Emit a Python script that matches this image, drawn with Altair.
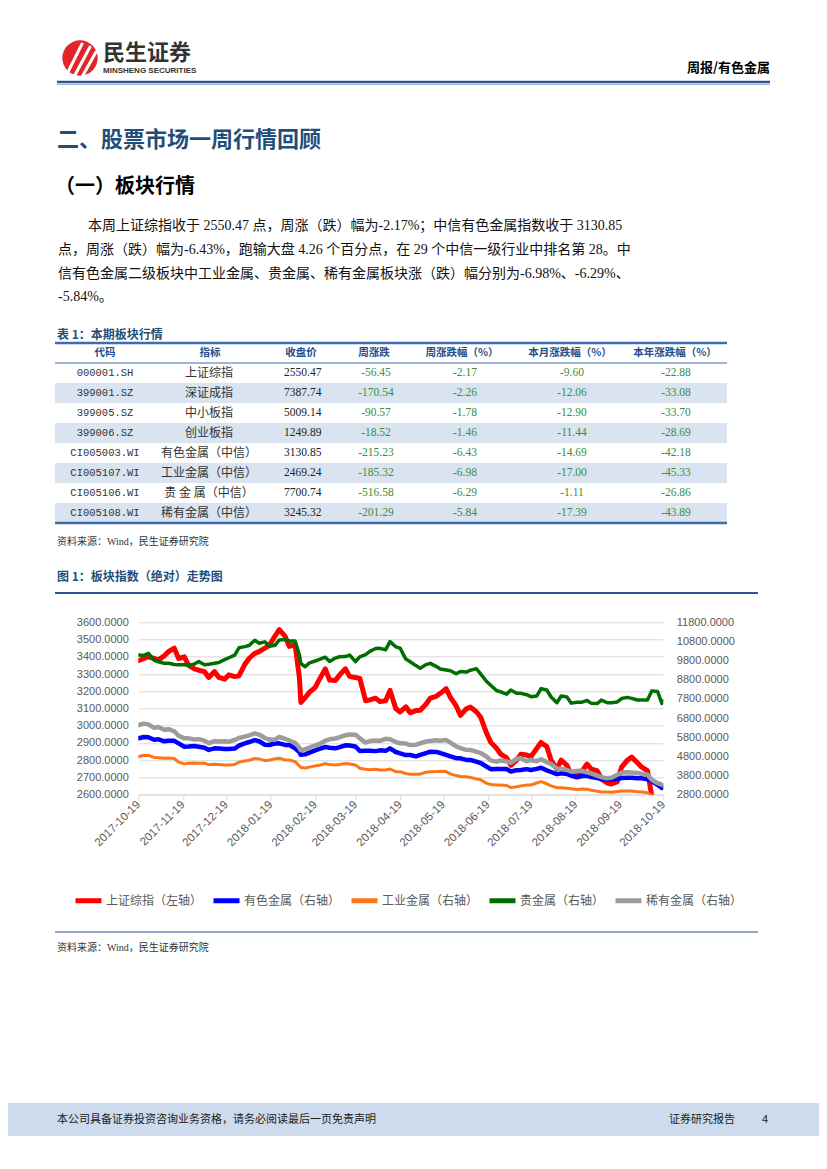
import altair as alt
import pandas as pd

# ---------------- data ----------------
dates = [
    "2017-10-19", "2017-10-23", "2017-10-26", "2017-10-30", "2017-11-02", "2017-11-06", "2017-11-09", "2017-11-13", "2017-11-16",
    "2017-11-20", "2017-11-23", "2017-11-27", "2017-11-30", "2017-12-04", "2017-12-07", "2017-12-11", "2017-12-14", "2017-12-18",
    "2017-12-21", "2017-12-25", "2017-12-28", "2018-01-01", "2018-01-04", "2018-01-08", "2018-01-11", "2018-01-15", "2018-01-18",
    "2018-01-22", "2018-01-25", "2018-01-29", "2018-02-01", "2018-02-05", "2018-02-08", "2018-02-09", "2018-02-12", "2018-02-15",
    "2018-02-19", "2018-02-22", "2018-02-26", "2018-03-01", "2018-03-05", "2018-03-08", "2018-03-12", "2018-03-15",
    "2018-03-19", "2018-03-22", "2018-03-26", "2018-03-29", "2018-04-02", "2018-04-05", "2018-04-09", "2018-04-12", "2018-04-16",
    "2018-04-19", "2018-04-23", "2018-04-26", "2018-04-30", "2018-05-03", "2018-05-07", "2018-05-10", "2018-05-14", "2018-05-17",
    "2018-05-21", "2018-05-24", "2018-05-28", "2018-05-31", "2018-06-04", "2018-06-07", "2018-06-11", "2018-06-14", "2018-06-18",
    "2018-06-21", "2018-06-25", "2018-06-28", "2018-07-02", "2018-07-05", "2018-07-09", "2018-07-12", "2018-07-16",
    "2018-07-19", "2018-07-23", "2018-07-26", "2018-07-30", "2018-08-02", "2018-08-06", "2018-08-09", "2018-08-13", "2018-08-16",
    "2018-08-20", "2018-08-23", "2018-08-27", "2018-08-30", "2018-09-03", "2018-09-06", "2018-09-10", "2018-09-13", "2018-09-17",
    "2018-09-20", "2018-09-24", "2018-09-27", "2018-10-01", "2018-10-04", "2018-10-08", "2018-10-11", "2018-10-15", "2018-10-18", "2018-10-19",
]

# 上证综指 (left axis)
sh = [
    3377, 3390, 3400, 3390, 3382, 3405, 3430, 3450, 3390,
    3400, 3350, 3330, 3322, 3314, 3280, 3314, 3280, 3270,
    3295, 3285, 3290, 3355, 3390, 3420, 3430, 3450, 3465,
    3520, 3558, 3520, 3460, 3470, 3280, 3135, 3162, 3195,
    3222, 3270, 3330, 3265, 3262, 3295, 3330, 3285,
    3280, 3275, 3145, 3150, 3160, 3140, 3145, 3205, 3100,
    3080, 3110, 3075, 3088, 3090, 3125, 3160, 3170, 3188,
    3215, 3165, 3115, 3060, 3098, 3108, 3081, 3050, 2960,
    2905, 2870, 2835, 2815, 2770, 2800, 2835, 2830,
    2821, 2868, 2903, 2879, 2800, 2750, 2800, 2770, 2718,
    2712, 2730, 2778, 2748, 2740, 2690, 2668, 2662, 2675,
    2760, 2800, 2818, 2785, 2760, 2740, 2590, 2560, 2490, 2550,
]
# 有色金属 (right axis)
ys = [
    5742, 5815, 5800, 5670, 5695, 5585, 5615, 5610, 5480,
    5307, 5315, 5342, 5307, 5250, 5140, 5220, 5210, 5185,
    5185, 5210, 5360, 5481, 5550, 5650, 5590, 5410, 5394,
    5475, 5481, 5400, 5394, 5220, 5020, 4880, 4905, 5000,
    5115, 5190, 5290, 5250, 5220, 5280, 5380, 5370,
    5315, 5080, 5100, 5100, 5075, 5115, 5090, 5220, 5030,
    4959, 4870, 4872, 4800, 4880, 4975, 5046, 5035, 4975,
    4880, 4800, 4705, 4698, 4615, 4611, 4530, 4455, 4275,
    4135, 4138, 4141, 4141, 4010, 4080, 4089, 4135,
    4089, 4150, 4205, 4070, 3985, 3875, 3915, 3880, 3790,
    3710, 3760, 3785, 3725, 3670, 3620, 3590, 3595, 3620,
    3670, 3689, 3689, 3655, 3654, 3610, 3500, 3320, 3150, 3210,
]
# 工业金属 (right axis)
gy = [
    4785, 4860, 4850, 4745, 4733, 4700, 4718, 4690, 4500,
    4410, 4445, 4460, 4445, 4440, 4370, 4385, 4380, 4350,
    4350, 4375, 4500, 4559, 4600, 4690, 4670, 4580, 4600,
    4680, 4705, 4615, 4611, 4524, 4300, 4220, 4190, 4240,
    4305, 4340, 4420, 4380, 4350, 4375, 4430, 4400,
    4355, 4180, 4130, 4105, 4130, 4095, 4089, 4141, 4000,
    4002, 3905, 3863, 3863, 3870, 3975, 4002, 4005, 4030,
    4005, 3890, 3798, 3750, 3741, 3700, 3625, 3578, 3405,
    3330, 3307, 3307, 3280, 3170, 3215, 3260, 3300,
    3307, 3410, 3480, 3370, 3260, 3168, 3160, 3133, 3110,
    3070, 3098, 3080, 3030, 2985, 2945, 2940, 2930, 2965,
    2994, 2994, 2990, 2960, 2940, 2900, 2760, 2650, 2500, 2469,
]
# 贵金属 (right axis)
gj = [
    10090, 10070, 10180, 9820, 9740, 9660, 9660, 9600, 9590,
    9580, 9540, 9620, 9750, 9580, 9610, 9660, 9700, 9850,
    9950, 10090, 10470, 10530, 10590, 10860, 10710, 10780, 10550,
    10600, 10880, 10900, 10830, 10820, 10100, 9650, 9480, 9680,
    9780, 9860, 9980, 9750, 9930, 10000, 10010, 10090,
    9750, 10000, 10110, 10280, 10430, 10440, 10370, 10790, 10520,
    10450, 9880, 9744, 9540, 9400, 9590, 9657, 9500, 9360,
    9309, 9270, 9110, 9230, 9200, 9300, 9380, 9110, 8720,
    8510, 8240, 8170, 8050, 8265, 8100, 8091, 8020,
    7917, 7950, 8340, 8265, 7900, 7600, 7950, 7900, 7580,
    7630, 7620, 7720, 7568, 7560, 7740, 7600, 7600, 7640,
    7820, 7880, 7830, 7745, 7742, 7742, 8220, 8190, 7568, 7700,
]
# 稀有金属 (right axis)
xy = [
    6440, 6510, 6470, 6290, 6330, 6190, 6220, 6110, 5880,
    5742, 5742, 5680, 5700, 5620, 5490, 5590, 5580, 5590,
    5570, 5655, 5760, 5829, 5900, 6000, 5940, 5760, 5680,
    5670, 5820, 5720, 5630, 5510, 5250, 5120, 5170, 5260,
    5380, 5450, 5620, 5690, 5735, 5800, 5900, 5940,
    5925, 5742, 5520, 5600, 5630, 5610, 5720, 5700, 5550,
    5481, 5470, 5394, 5410, 5485, 5575, 5606, 5645, 5615,
    5650, 5515, 5318, 5237, 5140, 5133, 5050, 4975, 4795,
    4590, 4524, 4590, 4535, 4460, 4680, 4698, 4550,
    4611, 4550, 4650, 4500, 4400, 4170, 4141, 4090, 4002,
    4040, 4060, 3970, 3900, 3800, 3710, 3654, 3690, 3840,
    3940, 3967, 3965, 3935, 3890, 3845, 3580, 3400, 3320, 3300,
]

series_names = ["上证综指（左轴）", "有色金属（右轴）", "工业金属（右轴）", "贵金属（右轴）", "稀有金属（右轴）"]
series_colors = ["#FF0000", "#0000FF", "#FF7417", "#006E00", "#9C9C9C"]

left_ticks = [2600, 2700, 2800, 2900, 3000, 3100, 3200, 3300, 3400, 3500, 3600]
right_ticks = [2800, 3800, 4800, 5800, 6800, 7800, 8800, 9800, 10800, 11800]
x_tick_months = [(2017, 10), (2017, 11), (2017, 12), (2018, 1), (2018, 2), (2018, 3), (2018, 4),
                 (2018, 5), (2018, 6), (2018, 7), (2018, 8), (2018, 9), (2018, 10)]

# table
headers = ["代码", "指标", "收盘价", "周涨跌", "周涨跌幅（%）", "本月涨跌幅（%）", "本年涨跌幅（%）"]
codes = ["000001.SH", "399001.SZ", "399005.SZ", "399006.SZ", "CI005003.WI", "CI005107.WI", "CI005106.WI", "CI005108.WI"]
names = ["上证综指", "深证成指", "中小板指", "创业板指", "有色金属（中信）", "工业金属（中信）", "贵 金 属（中信）", "稀有金属（中信）"]
close = ["2550.47", "7387.74", "5009.14", "1249.89", "3130.85", "2469.24", "7700.74", "3245.32"]
wk_chg = ["-56.45", "-170.54", "-90.57", "-18.52", "-215.23", "-185.32", "-516.58", "-201.29"]
wk_pct = ["-2.17", "-2.26", "-1.78", "-1.46", "-6.43", "-6.98", "-6.29", "-5.84"]
mo_pct = ["-9.60", "-12.06", "-12.90", "-11.44", "-14.69", "-17.00", "-1.11", "-17.39"]
yr_pct = ["-22.88", "-33.08", "-33.70", "-28.69", "-42.18", "-45.33", "-26.86", "-43.89"]

para = [
    "本周上证综指收于 2550.47 点，周涨（跌）幅为-2.17%；中信有色金属指数收于 3130.85",
    "点，周涨（跌）幅为-6.43%，跑输大盘 4.26 个百分点，在 29 个中信一级行业中排名第 28。中",
    "信有色金属二级板块中工业金属、贵金属、稀有金属板块涨（跌）幅分别为-6.98%、-6.29%、",
    "-5.84%。",
]

# ---------------- layout helpers ----------------
CJK = "Noto Sans CJK SC"
SERIF = "Liberation Serif, Noto Sans CJK SC"
SANS = "Liberation Sans"
NAVY = "#1F4E79"
TBLUE = "#3C6DB0"

OX, OY = 138.3, 622.3       # page position of the plot origin
W, H = 525, 172.4           # plot area


def X(p):
    return round(p - OX, 1)


def Y(p):
    return round(p - OY, 1)


one = pd.DataFrame({"k": [0]})


def text(s, px, py, size, color="#000000", weight="normal", align="left", font=CJK):
    return alt.Chart(pd.DataFrame({"t": [s]})).mark_text(
        align=align, baseline="middle", fontSize=size, font=font, fontWeight=weight, color=color
    ).encode(x=alt.value(X(px)), y=alt.value(Y(py)), text="t:N")


def hrule(x1, x2, py, color, w):
    return alt.Chart(one).mark_rule(color=color, strokeWidth=w).encode(
        x=alt.value(X(x1)), x2=alt.value(X(x2)), y=alt.value(Y(py)))


def line_seg(x1, y1, x2, y2, color, w):
    return alt.Chart(one).mark_rule(color=color, strokeWidth=w, strokeCap="round").encode(
        x=alt.value(X(x1)), x2=alt.value(X(x2)), y=alt.value(Y(y1)), y2=alt.value(Y(y2)))


def box(x1, x2, y1, y2, color):
    return alt.Chart(one).mark_rect(color=color).encode(
        x=alt.value(X(x1)), x2=alt.value(X(x2)), y=alt.value(Y(y1)), y2=alt.value(Y(y2)))


layers = []

# ---------------- header ----------------
layers.append(alt.Chart(one).mark_circle(size=1250, color="#E3242B", opacity=1).encode(
    x=alt.value(X(80)), y=alt.value(Y(58))))
layers.append(line_seg(68, 72, 82, 44, "white", 3))
layers.append(line_seg(75, 75, 90, 47, "white", 3))
layers.append(line_seg(82, 77, 96, 52, "white", 3))
layers.append(text("民生证券", 103, 53, 22, "#333333", "bold"))
layers.append(text("MINSHENG SECURITIES", 103, 71, 8, "#333333", "bold", font=SANS))
layers.append(text("周报/有色金属", 770, 68, 13, "#000000", "bold", align="right"))
layers.append(hrule(57, 770, 82, "#2E5597", 2.5))
layers.append(hrule(57, 770, 84.5, "#9DB7DA", 1))

# ---------------- headings & paragraph ----------------
layers.append(text("二、股票市场一周行情回顾", 57, 140, 22, NAVY, "bold"))
layers.append(text("（一）板块行情", 55, 187, 20, "#000000", "bold"))
para_x = [88, 58, 58, 58]
para_y = [226, 250, 274, 297]
for s, px, py in zip(para, para_x, para_y):
    layers.append(text(s, px, py, 14, "#111111", font=SERIF))

# ---------------- table ----------------
layers.append(text("表 1：本期板块行情", 57, 335, 12, NAVY, "bold"))
tbl = pd.DataFrame({"code": codes, "name": names, "close": close, "wk_chg": wk_chg,
                    "wk_pct": wk_pct, "mo_pct": mo_pct, "yr_pct": yr_pct})
row_scale = alt.Scale(type="band", domain=codes, range=[Y(363), Y(523)], paddingInner=0, paddingOuter=0)
shaded = tbl.iloc[[1, 3, 5, 7]]
layers.append(alt.Chart(shaded).mark_rect(color="#DAE3F0").encode(
    y=alt.Y("code:N", scale=row_scale, axis=None), x=alt.value(X(55)), x2=alt.value(X(727))))
layers.append(hrule(55, 727, 343, TBLUE, 2.5))
layers.append(hrule(55, 727, 363, TBLUE, 1))
layers.append(hrule(55, 727, 523, TBLUE, 2.5))

head_x = [105, 210, 301, 374, 462, 570, 675]
for h, cx in zip(headers, head_x):
    layers.append(text(h, cx, 353, 10.5, "#1F4E8C", "bold", align="center"))

col_specs = [
    ("code", 105, "#333333", "Liberation Mono", 10.5, "center"),
    ("name", 209, "#333333", CJK, 12, "center"),
    ("close", 284, "#222222", SERIF, 11.5, "left"),
    ("wk_chg", 376, "#3A8E3A", SERIF, 11.5, "center"),
    ("wk_pct", 465, "#3A8E3A", SERIF, 11.5, "center"),
    ("mo_pct", 572, "#3A8E3A", SERIF, 11.5, "center"),
    ("yr_pct", 676, "#3A8E3A", SERIF, 11.5, "center"),
]
for field, cx, col, fnt, sz, al in col_specs:
    layers.append(alt.Chart(tbl).mark_text(align=al, baseline="middle", color=col, font=fnt, fontSize=sz).encode(
        y=alt.Y("code:N", scale=row_scale, axis=None), x=alt.value(X(cx)), text=f"{field}:N"))

layers.append(text("资料来源：Wind，民生证券研究院", 57, 542, 10, "#333333", font=SERIF))

# ---------------- figure frame ----------------
layers.append(text("图 1：板块指数（绝对）走势图", 57, 577, 12, NAVY, "bold"))
layers.append(hrule(55, 758, 593, "#2E5597", 2))
layers.append(hrule(55, 758, 932, "#2E5597", 1))
layers.append(text("资料来源：Wind，民生证券研究院", 57, 948, 10, "#333333", font=SERIF))

# ---------------- footer ----------------
layers.append(box(0, 827, 1103, 1136, "#CDDBEC"))
layers.append(text("本公司具备证券投资咨询业务资格，请务必阅读最后一页免责声明", 57, 1120, 11, "#222222"))
layers.append(text("证券研究报告", 669, 1120, 11, "#222222"))
layers.append(text("4", 765, 1120, 11, "#222222", align="center"))

# ---------------- line chart ----------------
x_enc = alt.X(
    "date:T",
    scale=alt.Scale(type="utc", domain=[alt.DateTime(year=2017, month=10, date=19, utc=True),
                                        alt.DateTime(year=2018, month=10, date=19, utc=True)]),
    axis=alt.Axis(values=[alt.DateTime(year=y, month=m, date=19, utc=True) for y, m in x_tick_months],
                  labelExpr="utcFormat(datum.value, '%Y-%m-%d')", labelAngle=-45, labelAlign="right",
                  labelBaseline="middle", labelFont=SANS, labelFontSize=11.5, labelColor="#595959",
                  labelPadding=3, grid=False, domainColor="#D9D9D9", tickColor="#D9D9D9", tickSize=5,
                  labelOverlap=False, title=None),
)
color_enc = alt.Color(
    "series:N",
    scale=alt.Scale(domain=series_names, range=series_colors),
    legend=alt.Legend(orient="none", legendX=X(73), legendY=Y(885), direction="horizontal", title=None,
                      symbolType="stroke", symbolSize=676, symbolStrokeWidth=5, labelFont=CJK,
                      labelFontSize=12, labelColor="#595959", labelOffset=2, columnPadding=0,
                      labelLimit=300),
)


def series_df(name, vals):
    return pd.DataFrame({"date": dates, "value": vals, "series": name})


left_y = alt.Y("value:Q", scale=alt.Scale(domain=[2600, 3600], nice=False, zero=False),
               axis=alt.Axis(values=left_ticks, format=".4f", grid=True, gridColor="#D9D9D9",
                             domain=False, ticks=False, labelFont=SANS, labelFontSize=11,
                             labelColor="#595959", labelPadding=10, title=None))
right_scale = alt.Scale(domain=[2800, 11800], nice=False, zero=False)
right_axis = alt.Axis(orient="right", values=right_ticks, format=".4f", grid=False, domain=False,
                      ticks=False, labelFont=SANS, labelFontSize=11, labelColor="#595959",
                      labelPadding=13, title=None)

layers.append(alt.Chart(series_df(series_names[0], sh)).mark_line(
    clip=True, strokeWidth=5, strokeJoin="round", strokeCap="round").encode(
    x=x_enc, y=left_y, color=color_enc))

right_data = [(series_names[1], ys, 4.5), (series_names[2], gy, 3.0),
              (series_names[3], gj, 3.5), (series_names[4], xy, 4.5)]
for i, (nm, vals, sw) in enumerate(right_data):
    layers.append(alt.Chart(series_df(nm, vals)).mark_line(
        clip=True, strokeWidth=sw, strokeJoin="round", strokeCap="round").encode(
        x=x_enc,
        y=alt.Y("value:Q", scale=right_scale, axis=right_axis if i == 0 else None),
        color=color_enc))

chart = alt.layer(*layers).resolve_scale(y="independent").properties(
    width=W, height=H,
    padding={"left": 130.3, "top": 614.3, "right": 155.7, "bottom": 358.3},
    autosize=alt.AutoSizeParams(type="none"),
).configure_view(stroke=None)

chart.save("out.html", embed_options={"renderer": "svg", "actions": False})
